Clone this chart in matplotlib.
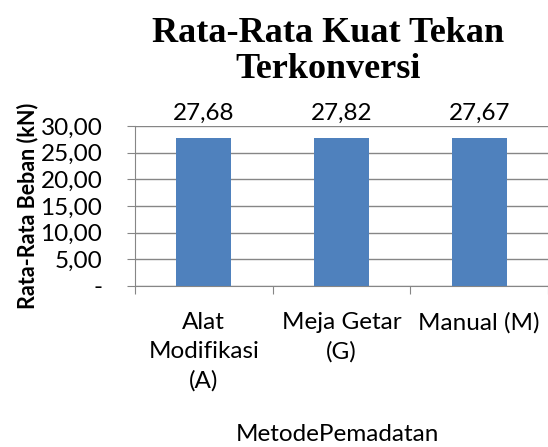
import matplotlib
matplotlib.use('Agg')
import matplotlib.pyplot as plt
import numpy as np

categories = ['Alat\nModifikasi\n(A)', 'Meja Getar\n(G)', 'Manual (M)']
values = [27.68, 27.82, 27.67]
yticks = [0, 5, 10, 15, 20, 25, 30]
ytick_labels = ['-', '5,00', '10,00', '15,00', '20,00', '25,00', '30,00']

plt.rcParams['font.family'] = ['Lato', 'DejaVu Sans']

fig = plt.figure(figsize=(5.48, 4.47), dpi=100)
ax = fig.add_axes([135/548, 1-286/447, (548-135)/548, (286-126)/447])

x = np.arange(len(categories))
bars = ax.bar(x, values, width=0.4, color='#4f81bd', zorder=3)

# value labels above bars
for xi, v in zip(x, values):
    ax.text(xi, 30.4, f'{v:.2f}'.replace('.', ','), ha='center', va='bottom', fontsize=17.5)

ax.set_xlim(-0.5, 2.5)
ax.set_ylim(0, 30)
ax.set_yticks(yticks)
ax.set_yticklabels(ytick_labels, fontsize=17.5)
ax.set_xticks([-0.5, 0.5, 1.5, 2.5])
ax.set_xticklabels([])
ax.set_xticks(x, minor=True)
ax.set_xticklabels(categories, minor=True, fontsize=17.5, linespacing=1.45)
ax.tick_params(axis='x', which='minor', length=0, pad=19)
ax.tick_params(axis='x', which='major', length=6, color='#868686', direction='out')
ax.tick_params(axis='y', length=6, color='#868686', direction='out', pad=17.5)

ax.grid(axis='y', color='#868686', linewidth=1, zorder=0)
for s in ['top', 'right']:
    ax.spines[s].set_visible(False)
for s in ['left', 'bottom']:
    ax.spines[s].set_color('#868686')

ax.set_ylabel('Rata-Rata Beban (kN)', fontsize=15.5, fontweight='bold')
ax.yaxis.set_label_coords(-0.235, 0.5)
ax.set_xlabel('MetodePemadatan', fontsize=17.5)
ax.xaxis.set_label_coords(0.49, -0.86)

fig.text(328/548, 1-51/447, 'Rata-Rata Kuat Tekan\nTerkonversi', ha='center', va='center',
         fontsize=26, fontweight='bold', family='Liberation Serif', linespacing=1.12)

fig.savefig('out.png', dpi=100)
